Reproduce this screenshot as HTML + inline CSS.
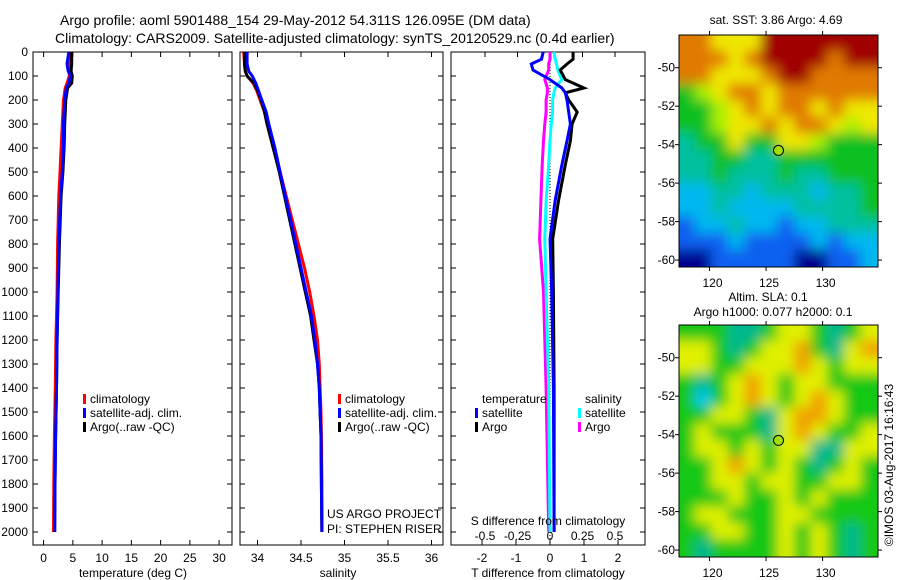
<!DOCTYPE html>
<html><head><meta charset="utf-8"><style>
html,body{margin:0;padding:0;background:#fff;}
svg{display:block;font-family:"Liberation Sans",sans-serif;font-size:12px;}
</style></head><body>
<svg id="fig" width="900" height="580" viewBox="0 0 900 580">
<defs>
<filter id="blurA" filterUnits="userSpaceOnUse" x="660" y="15" width="240" height="272"><feGaussianBlur stdDeviation="6"/></filter>
<filter id="blurB" filterUnits="userSpaceOnUse" x="660" y="305" width="240" height="272"><feGaussianBlur stdDeviation="6"/></filter>
<clipPath id="clipA"><rect x="679" y="35" width="199" height="232"/></clipPath>
<clipPath id="clipB"><rect x="679" y="325" width="199" height="232"/></clipPath>
</defs>
<text x="60" y="25" style="font-size:14px">Argo profile: aoml 5901488_154 29-May-2012 54.311S 126.095E (DM data)</text>
<text x="55" y="43" style="font-size:14px">Climatology: CARS2009. Satellite-adjusted climatology: synTS_20120529.nc (0.4d earlier)</text>
<g id="g"></g>
</svg>
<script>
// ---------- data ----------
const tDepths = [0,50,80,100,130,150,200,300,400,500,600,800,1000,1200,1400,1600,1800,2000];
const tempArgo = [4.8,4.8,4.7,4.9,4.8,4.1,3.8,3.6,3.5,3.3,3.0,2.7,2.5,2.3,2.2,2.05,1.95,1.9];
const tempSat = [4.3,4.0,4.2,4.6,4.3,3.9,3.6,3.4,3.4,3.2,2.9,2.6,2.45,2.3,2.2,2.05,1.95,1.9];
const tempClim = [4.4,4.3,4.4,4.4,4.0,3.7,3.4,3.2,3.0,2.8,2.6,2.4,2.3,2.1,2.0,1.85,1.75,1.7];
const sDepths = [0,50,80,100,130,160,200,250,300,400,500,600,700,800,900,1000,1100,1200,1300,1400,1500,1600,1800,2000];
const salSat = [33.88,33.88,33.90,33.94,33.98,34.01,34.05,34.10,34.13,34.20,34.26,34.32,34.38,34.44,34.50,34.56,34.62,34.66,34.69,34.71,34.72,34.73,34.735,34.74];
const salArgo = [33.85,33.85,33.86,33.88,33.96,34.00,34.04,34.08,34.11,34.18,34.25,34.31,34.37,34.43,34.49,34.55,34.61,34.65,34.69,34.71,34.72,34.73,34.735,34.74];
const salClim = [33.84,33.85,33.86,33.88,33.95,33.99,34.03,34.08,34.11,34.18,34.26,34.33,34.40,34.47,34.54,34.60,34.65,34.69,34.71,34.72,34.73,34.735,34.74,34.74];
const dDepths = [0,30,50,75,115,150,170,200,250,300,370,470,620,780,1000,1400,2000];
const dTArgo = [0.68,0.68,0.5,0.3,0.45,1.0,0.45,0.55,0.8,0.65,0.6,0.45,0.25,0.08,0.1,0.12,0.12];
const dTSat = [-0.2,-0.25,-0.55,-0.5,0.0,0.35,0.45,0.5,0.55,0.6,0.5,0.35,0.15,0.0,0.05,0.1,0.12];
const dSSat = [0.03,0.04,0.05,0.06,0.09,0.04,0.03,0.02,0.02,0.01,0.0,-0.01,-0.03,-0.04,-0.03,-0.01,0.0];
const dSArgo = [0.0,0.0,-0.01,-0.01,-0.04,-0.02,-0.02,-0.03,-0.03,-0.04,-0.05,-0.06,-0.07,-0.08,-0.05,-0.03,-0.01];
const depthTicks = [0,100,200,300,400,500,600,700,800,900,1000,1100,1200,1300,1400,1500,1600,1700,1800,1900,2000];
const tempTicks = [0,5,10,15,20,25,30];
const salTicks = [34,34.5,35,35.5,36];
const salTickLabels = ["34","34.5","35","35.5","36"];
const dTTicks = [-2,-1,0,1,2];
const dSTicks = [-0.5,-0.25,0,0.25,0.5];
const dSTickLabels = ["-0.5","-0.25","0","0.25","0.5"];
const lonTicks = [120,125,130];
const latTicks = [-50,-52,-54,-56,-58,-60];
const argoLon = 126.1, argoLat = -54.3;
const sstGrid = [
"OOYYYRRRRRRR","OOOYORRRRORR","OOYYYORROOOO","GLYOOYOOOOOO","GGLYOYOOYOYY",
"GGLYYOYOOYLY","TGGYGGYYLGGG","TTGGTTGGGGGG","TTGTTTGTTGGG","CCTTCTTTCTTG",
"CCTCCCCTTTTG","BCCTCCBCCTTT","BBBCBBBBCBCC","NNBBBBBNNBBC"];
const slaGrid = [
"GGGTTGYYGTGY","YYGTGYYOGTYO","YYGGYYYOYGYY","GTGYOYGYYGGG","GCGYOYGYOYGG",
"GGYYGTYOOYGG","GYGGGTYOYGGY","GYYGYGYYTTYY","GGYOYGYGTGYG","GGYYGYYGGYYG",
"GGGYGGYGYGGG","GYYGGGYYGGGG","GGYYGGYGYGTG","GTGGGGYGYGTG"];
const sstColors = {R:"#a00000",O:"#e07a00",Y:"#f0e800",L:"#a8f000",G:"#10c020",T:"#00c0a0",C:"#00b8f0",B:"#1060f0",N:"#000090"};
const slaColors = {G:"#18c818",Y:"#e0f000",O:"#f0a000",T:"#00b890",C:"#00c8f0"};

// ---------- helpers ----------
const NS="http://www.w3.org/2000/svg";
const G=document.getElementById('g');
function mk(tag,attrs,parent){const e=document.createElementNS(NS,tag);for(const k in attrs)e.setAttribute(k,attrs[k]);(parent||G).appendChild(e);return e;}
function txt(x,y,s,anchor,parent){const e=mk('text',{x:x,y:y,'text-anchor':anchor||'start'},parent);e.textContent=s;return e;}
const yD = d => 52 + d*0.24;
const BOT = 545;
const xT = t => 43.6 + t*5.85;
const xS = s => 257.5 + (s-34)*87;
const xDT = v => 550 + v*34;
const xDS = v => 550 + v*130;

function line(xs,ds,xf,color,name,w){
  let p=ds.map((d,i)=>xf(xs[i]).toFixed(1)+','+yD(d).toFixed(1)).join(' ');
  const e=mk('polyline',{points:p,fill:'none',stroke:color,'stroke-width':w||3,'stroke-linejoin':'miter'});
  
  
}
function box(x1,x2,name){
  const e=mk('rect',{x:x1,y:52,width:x2-x1,height:BOT-52,fill:'none',stroke:'#000','stroke-width':1});
  
  
}
function depthTicksOn(x1,x2,labels){
  depthTicks.forEach(d=>{
    mk('line',{x1:x1,y1:yD(d),x2:x1+5,y2:yD(d),stroke:'#000'});
    mk('line',{x1:x2,y1:yD(d),x2:x2-5,y2:yD(d),stroke:'#000'});
    if(labels){const t=txt(x1-5,yD(d)+4,String(d),'end');
      
      }
  });
}
function xTicks(vals,labs,xf,top,bottom,labY){
  vals.forEach((v,i)=>{
    const x=xf(v);
    if(bottom) mk('line',{x1:x,y1:BOT,x2:x,y2:BOT-5,stroke:'#000'});
    if(top) mk('line',{x1:x,y1:52,x2:x,y2:57,stroke:'#000'});
    if(labY){const t=txt(x,labY,labs[i],'middle');
      
      }
  });
}

// ---------- panel 1: temperature ----------
box(33,232,'temperature-panel');
depthTicksOn(33,232,true);
xTicks(tempTicks,tempTicks.map(String),xT,true,true,562);
line(tempClim,tDepths,xT,'#ff0000','temp-climatology-line');
line(tempArgo,tDepths,xT,'#000000','temp-argo-line');
line(tempSat,tDepths,xT,'#0000ff','temp-satellite-line');
txt(133,577,'temperature (deg C)','middle');

// ---------- panel 2: salinity ----------
box(240,443,'salinity-panel');
depthTicksOn(240,443,false);
xTicks(salTicks,salTickLabels,xS,true,true,562);
line(salClim,sDepths,xS,'#ff0000','sal-climatology-line');
line(salArgo,sDepths,xS,'#000000','sal-argo-line');
line(salSat,sDepths,xS,'#0000ff','sal-satellite-line');
txt(338,577,'salinity','middle');
txt(327,518,'US ARGO PROJECT');
txt(327,533,'PI: STEPHEN RISER');

// ---------- panel 3: differences ----------
box(451,645,'difference-panel');
depthTicksOn(451,645,false);
xTicks(dSTicks,dSTickLabels,xDS,true,false,540);
xTicks(dTTicks,dTTicks.map(String),xDT,false,true,562);
mk('line',{x1:xDT(0),y1:52,x2:xDT(0),y2:BOT,stroke:'#000','stroke-dasharray':'1,2'});
line(dSArgo,dDepths,xDS,'#ff00ff','s-diff-argo-line');
line(dSSat,dDepths,xDS,'#00ffff','s-diff-satellite-line');
line(dTArgo,dDepths,xDT,'#000000','t-diff-argo-line');
line(dTSat,dDepths,xDT,'#0000ff','t-diff-satellite-line');
txt(548,525,'S difference from climatology','middle');
txt(548,577,'T difference from climatology','middle');

// ---------- legends ----------
function legend(x,y,color,label,name){
  mk('rect',{x:x,y:y-9,width:3,height:10,fill:color});
  const t=txt(x+7,y,label);
  
  
}
legend(83,403,'#ff0000','climatology','legend-climatology');
legend(83,417,'#0000ff','satellite-adj. clim.','legend-satellite');
legend(83,431,'#000000','Argo(..raw -QC)','legend-argo');
legend(338,403,'#ff0000','climatology','legend-climatology-2');
legend(338,417,'#0000ff','satellite-adj. clim.','legend-satellite-2');
legend(338,431,'#000000','Argo(..raw -QC)','legend-argo-2');
txt(482,403,'temperature');
txt(585,403,'salinity');
legend(475,417,'#0000ff','satellite','legend-t-satellite');
legend(475,431,'#000000','Argo','legend-t-argo');
legend(578,417,'#00ffff','satellite','legend-s-satellite');
legend(578,431,'#ff00ff','Argo','legend-s-argo');

// ---------- maps ----------
function mapPanel(top,grid,colors,clip,blur,name){
  const L=679,R=878,Tp=top,Bm=top+232;
  const lonMin=117.3,lonMax=134.9,latTop=-48.3,latBot=-60.36;
  const xL=lo=>L+(lo-lonMin)/(lonMax-lonMin)*(R-L);
  const yL=la=>Tp+(latTop-la)/(latTop-latBot)*(Bm-Tp);
  const cg=mk('g',{'clip-path':'url(#'+clip+')'});
  
  
  const bg=mk('g',{filter:'url(#'+blur+')'},cg);
  const rows=grid.length,cols=grid[0].length;
  const cw=(R-L)/cols,ch=(Bm-Tp)/rows;
  for(let r=0;r<rows;r++)for(let c=0;c<cols;c++){
    let x=L+c*cw-1,y=Tp+r*ch-1,w=cw+2,h=ch+2;
    if(c==0){x-=12;w+=12;} if(c==cols-1){w+=12;}
    if(r==0){y-=12;h+=12;} if(r==rows-1){h+=12;}
    mk('rect',{x:x,y:y,width:w,height:h,fill:colors[grid[r][c]]},bg);
  }
  const b=mk('rect',{x:L,y:Tp,width:R-L,height:Bm-Tp,fill:'none',stroke:'#000'});
  
  
  lonTicks.forEach(lo=>{const x=xL(lo);
    mk('line',{x1:x,y1:Tp,x2:x,y2:Tp-4,stroke:'#000'});
    mk('line',{x1:x,y1:Bm,x2:x,y2:Bm+4,stroke:'#000'});
    txt(x+3,Bm+20,String(lo),'middle');});
  latTicks.forEach(la=>{const y=yL(la);
    mk('line',{x1:L,y1:y,x2:L-4,y2:y,stroke:'#000'});
    mk('line',{x1:R,y1:y,x2:R+4,y2:y,stroke:'#000'});
    txt(L-4,y+4,String(la),'end');});
  const m=mk('circle',{cx:xL(argoLon),cy:yL(argoLat),r:5,fill:'#a0e000',stroke:'#000'});
  
  
}
mapPanel(35,sstGrid,sstColors,'clipA','blurA','sst-map');
mapPanel(325,slaGrid,slaColors,'clipB','blurB','sla-map');
txt(776,24,'sat. SST: 3.86  Argo: 4.69','middle');
txt(768,301,'Altim. SLA: 0.1','middle');
txt(773,316,'Argo h1000: 0.077 h2000: 0.1','middle');
const cr=txt(0,0,'©IMOS 03-Aug-2017 16:16:43','middle');
cr.setAttribute('transform','translate(893,465) rotate(-90)');


</script>
</body></html>
